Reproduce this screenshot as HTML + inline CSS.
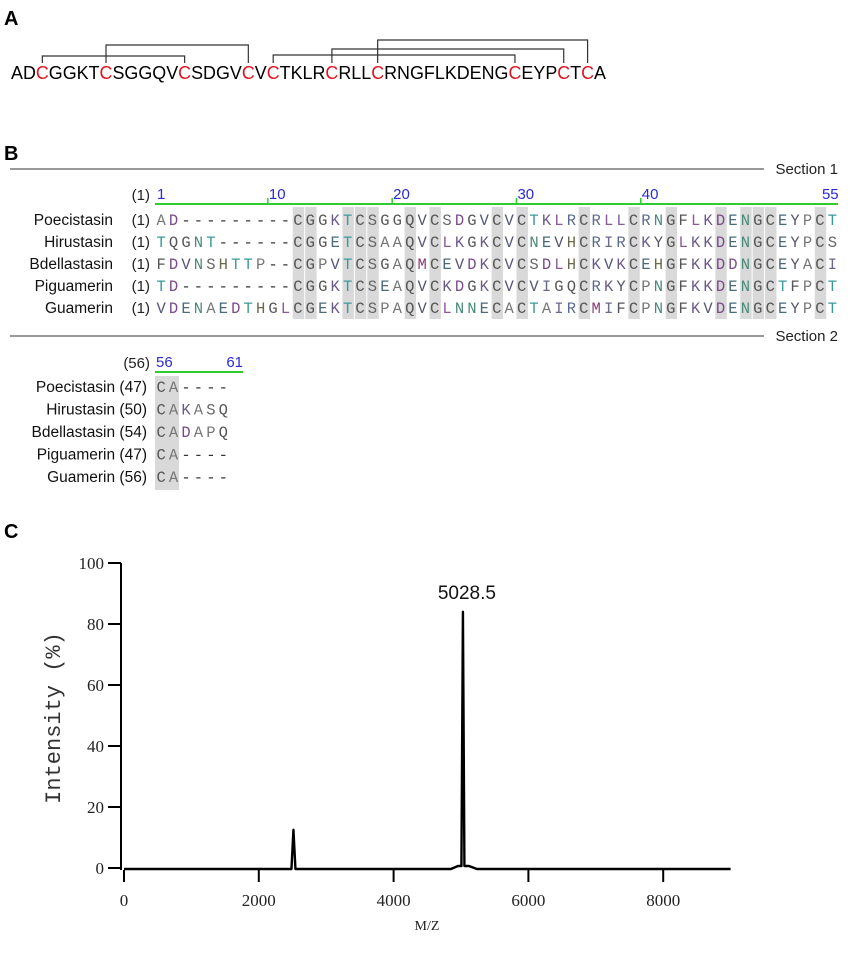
<!DOCTYPE html>
<html><head><meta charset="utf-8"><style>
html,body{margin:0;padding:0;background:#fff;width:850px;height:955px;overflow:hidden}
svg{display:block}
</style></head><body>
<svg id="fig" width="850" height="955" viewBox="0 0 850 955" xmlns="http://www.w3.org/2000/svg" font-family="Liberation Sans, sans-serif">
<g>
<text x="4" y="25" font-size="20" font-weight="bold">A</text>
<g id="bonds" stroke="#333" stroke-width="1.2" fill="none"></g>
<text id="seqA" x="11" y="79" font-size="18" textLength="595" lengthAdjust="spacingAndGlyphs"></text>
</g>
<g>
<text x="4" y="160" font-size="20" font-weight="bold">B</text>
<line x1="10" y1="169" x2="764" y2="169" stroke="#333" stroke-width="1"/>
<text x="838" y="174" font-size="15" text-anchor="end" fill="#222">Section 1</text>
<line x1="10" y1="336" x2="764" y2="336" stroke="#333" stroke-width="1"/>
<text x="838" y="341" font-size="15" text-anchor="end" fill="#222">Section 2</text>
<g id="align"></g>
</g>
<g>
<text x="4" y="538" font-size="20" font-weight="bold">C</text>
<g id="chart"></g>
</g>
</svg>
<script>
const NS='http://www.w3.org/2000/svg';
function mk(tag,attrs,parent,txt){const e=document.createElementNS(NS,tag);for(const k in attrs)e.setAttribute(k,attrs[k]);if(txt!==undefined)e.textContent=txt;parent.appendChild(e);return e;}
// Panel A
const seq="ADCGGKTCSGGQVCSDGVCVCTKLRCRLLCRNGFLKDENGCEYPCTCA";
const bondPairs=[[2,13],[7,18],[20,40],[25,44],[29,46]];
const bondHeights=[56,45,55,49,40];
const seqEl=document.getElementById('seqA');
for(const ch of seq){const t=mk('tspan',{fill:ch==='C'?'#e0141e':'#000'},seqEl,ch);

}
const bg=document.getElementById('bonds');
function cx(i){try{const a=seqEl.getStartPositionOfChar(i).x,b=seqEl.getEndPositionOfChar(i).x;return (a+b)/2;}catch(e){return 11+(i+0.5)*595/48;}}
bondPairs.forEach((p,k)=>{const x1=cx(p[0]),x2=cx(p[1]),h=bondHeights[k];
const pl=mk('polyline',{points:`${x1},63 ${x1},${h} ${x2},${h} ${x2},63`},bg);

});
// Panel B
const names=["Poecistasin","Hirustasin","Bdellastasin","Piguamerin","Guamerin"];
const seqs1=["AD---------CGGKTCSGGQVCSDGVCVCTKLRCRLLCRNGFLKDENGCEYPCT",
"TQGNT------CGGETCSAAQVCLKGKCVCNEVHCRIRCKYGLKKDENGCEYPCS",
"FDVNSHTTP--CGPVTCSGAQMCEVDKCVCSDLHCKVKCEHGFKKDDNGCEYACI",
"TD---------CGGKTCSEAQVCKDGKCVCVIGQCRKYCPNGFKKDENGCTFPCT",
"VDENAEDTHGLCGEKTCSPAQVCLNNECACTAIRCMIFCPNGFKVDENGCEYPCT"];
const seqs2=["CA----","CAKASQ","CADAPQ","CA----","CA----"];
const starts2=["(47)","(50)","(54)","(47)","(56)"];
const shaded1=[12,13,16,17,18,21,23,28,30,35,39,42,46,48,49,50,54];
const ruler1=[1,10,20,30,40,55];
const ruler2=[56,61];
const g=document.getElementById('align');
const X0=155,P=12.43;
const colX=i=>X0+(i-1)*P;
const palette={A:'#777',C:'#555',D:'#7a4a8a',E:'#4a6a7a',G:'#555',K:'#6a5a8a',T:'#3a9a9a',Q:'#555',V:'#557',S:'#666',N:'#4a8a7a',H:'#6a6a4a',L:'#8a5a9a',R:'#5a6a8a',I:'#6a6a8a',M:'#8a3a7a',F:'#555',P:'#777',Y:'#556','-':'#333'};
shaded1.forEach(c=>{const r=mk('rect',{x:colX(c)+1,y:207,width:P-1,height:112,fill:'#d9d9d9'},g);

});
const r2=mk('rect',{x:155,y:376,width:24,height:114,fill:'#d9d9d9'},g);


let gl=mk('line',{x1:155,y1:204,x2:838,y2:204,stroke:'#2ecc2e','stroke-width':2},g);


gl=mk('line',{x1:155,y1:372,x2:243,y2:372,stroke:'#2ecc2e','stroke-width':2},g);


let t=mk('text',{x:150,y:200,'font-size':15,'text-anchor':'end',fill:'#222'},g,'(1)');


t=mk('text',{x:150,y:368,'font-size':15,'text-anchor':'end',fill:'#222'},g,'(56)');


ruler1.forEach(n=>{const x=n===55?colX(n)+P:colX(n)+2;
const tt=mk('text',{x:x,y:199,'font-size':15,fill:'#2a2ad0','text-anchor':n===55?'end':'start'},g,String(n));


if(n!==1&&n!==55){const tk=mk('line',{x1:x-1,y1:198,x2:x-1,y2:204,stroke:'#2ecc2e','stroke-width':1.5},g);

}});
ruler2.forEach((n,i)=>{const tt=mk('text',{x:i?243:156,y:367,'font-size':15,fill:'#2a2ad0','text-anchor':i?'end':'start'},g,String(n));

});
names.forEach((nm,r)=>{
 const y=225+r*22;
 let l=mk('text',{x:113,y:y,'font-size':15.5,'text-anchor':'end',fill:'#111'},g,nm);
 
 
 l=mk('text',{x:150,y:y,'font-size':15,'text-anchor':'end',fill:'#222'},g,'(1)');
 
 
 const row=mk('text',{y:y,'font-size':15.5,'font-family':'Liberation Mono, monospace'},g);
 
 
 [...seqs1[r]].forEach((ch,i)=>{mk('tspan',{x:colX(i+1)+1.5,fill:palette[ch]||'#555'},row,ch);});
 const y2=392+r*22.5;
 l=mk('text',{x:147,y:y2,'font-size':15.5,'text-anchor':'end',fill:'#111'},g,nm+' '+starts2[r]);
 
 
 const row2=mk('text',{y:y2,'font-size':15.5,'font-family':'Liberation Mono, monospace'},g);
 
 
 [...seqs2[r]].forEach((ch,i)=>{mk('tspan',{x:colX(i+1)+1.5,fill:palette[ch]||'#555'},row2,ch);});
});
// Panel C chart
const peakMZ=[2514,5028.5];
const peakIntensity=[12.5,84];
const xTicks=[0,2000,4000,6000,8000];
const yTicks=[0,20,40,60,80,100];
const peakLabels=["","5028.5"];
const c=document.getElementById('chart');
const xS=v=>124+v*0.0674;
const yS=v=>868-v*3.05;
const xMax=9000;
let ax=mk('line',{x1:121,y1:yS(100),x2:121,y2:yS(0)+2,stroke:'#000','stroke-width':2},c);


yTicks.forEach(v=>{const tk=mk('line',{x1:108,y1:yS(v),x2:121,y2:yS(v),stroke:'#000','stroke-width':2},c);


const tl=mk('text',{x:104,y:yS(v)+6,'font-size':17,'text-anchor':'end','font-family':'Liberation Serif, serif',fill:'#222'},c,String(v));

});
xTicks.forEach(v=>{const tk=mk('line',{x1:xS(v),y1:870,x2:xS(v),y2:882,stroke:'#000','stroke-width':2},c);


const tl=mk('text',{x:xS(v),y:906,'font-size':17,'text-anchor':'middle','font-family':'Liberation Serif, serif',fill:'#222'},c,String(v));

});
let d='M'+xS(0)+' '+(yS(0)+1);
peakMZ.forEach((m,i)=>{const b=yS(0)+1;const x=xS(m);
 if(i===1){d+=' L'+(x-12)+' '+b+' L'+(x-5)+' '+(b-3)+' L'+(x-1.5)+' '+(b-3)+' L'+x+' '+yS(peakIntensity[i])+' L'+(x+1.5)+' '+(b-3)+' L'+(x+6)+' '+(b-3)+' L'+(x+14)+' '+b;}
 else{d+=' L'+(x-2)+' '+b+' L'+x+' '+yS(peakIntensity[i])+' L'+(x+2)+' '+b;}
});
d+=' L'+xS(xMax)+' '+(yS(0)+1);
const sp=mk('path',{d:d,fill:'none',stroke:'#000','stroke-width':2.4,'stroke-linejoin':'round'},c);


peakMZ.forEach((m,i)=>{if(!peakLabels[i])return;const pl=mk('text',{x:xS(m)+4,y:yS(peakIntensity[i])-13,'font-size':19,'text-anchor':'middle',fill:'#111'},c,peakLabels[i]);

});
let at=mk('text',{x:427,y:930,'font-size':14,'text-anchor':'middle','font-family':'Liberation Serif, serif',fill:'#222'},c,'M/Z');


at=mk('text',{x:0,y:0,'font-size':22,'text-anchor':'middle','font-family':'Liberation Mono, monospace',fill:'#333',transform:'translate(60,718) rotate(-90)'},c,'Intensity (%)');


</script>
</body></html>
